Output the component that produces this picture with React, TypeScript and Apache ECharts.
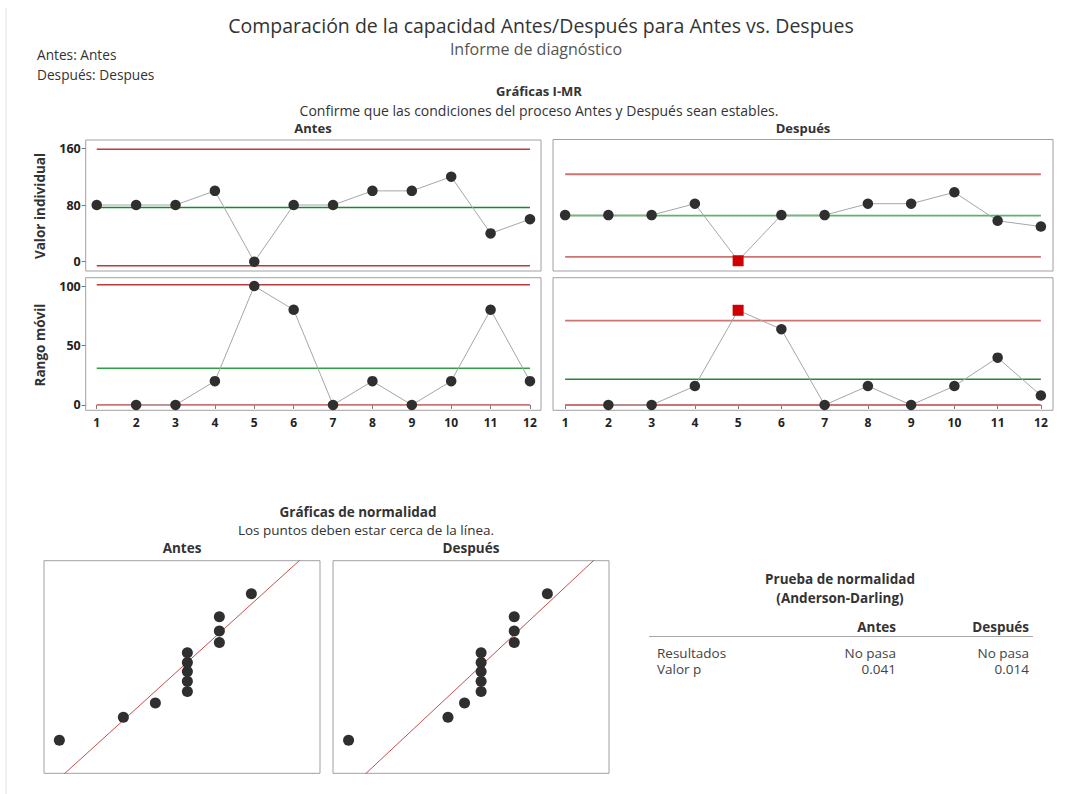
import React, { useEffect, useRef } from "react";
import * as echarts from "echarts";

// ---------- data ----------
const indices = [1, 2, 3, 4, 5, 6, 7, 8, 9, 10, 11, 12];
const antesValues = [80, 80, 80, 100, 0, 80, 80, 100, 100, 120, 40, 60];
const despuesValues = [80, 80, 80, 100, 0, 80, 80, 100, 100, 120, 70, 60];
// moving ranges start at observation 2
const antesMR = [0, 0, 20, 100, 80, 0, 20, 0, 20, 80, 20];
const despuesMR = [0, 0, 20, 100, 80, 0, 20, 0, 20, 50, 10];
// control limits [UCL, CL, LCL]
const antesILimits = [158.9, 76.67, -5.6];
const despuesILimits = [151.7, 79.17, 6.6];
const antesMRLimits = [101.0, 30.9, 0];
const despuesMRLimits = [89.1, 27.27, 0];
// y tick labels
const iTicks = [0, 80, 160];
const mrTicks = [0, 50, 100];
// normal scores (probability plot y positions)
const normalScores = [-1.59, -1.09, -0.78, -0.53, -0.31, -0.1, 0.1, 0.31, 0.53, 0.78, 1.09, 1.59];
// fitted normal line: [mean, sd]
const antesFit = [76.67, 31.7];
const despuesFit = [79.17, 29.7];
// normality test table
const tableCols = ["Antes", "Después"];
const tableRows = ["Resultados", "Valor p"];
const tableResultados = ["No pasa", "No pasa"];
const tablePValues = ["0.041", "0.014"];

const FONT = "'Open Sans', 'Noto Sans', sans-serif";
const DARK = "#333333";

function txt(text: string, x: number, y: number, size: number, opts: any = {}) {
  return {
    type: "text",
    x,
    y,
    rotation: opts.rotation || 0,
    silent: true,
    style: {
      text,
      fill: opts.color || DARK,
      fontSize: size,
      fontFamily: FONT,
      fontWeight: opts.bold ? "bold" : "normal",
      textAlign: opts.align || "center",
      textVerticalAlign: "middle",
    },
  };
}

function limitLine(ax: number, value: number, color: string, width: number) {
  return {
    type: "line",
    xAxisIndex: ax,
    yAxisIndex: ax,
    data: [
      [indices[0], value],
      [indices[indices.length - 1], value],
    ],
    symbol: "none",
    silent: true,
    lineStyle: { color, width },
    z: 1,
  };
}

function dataSeries(ax: number, xs: number[], ys: number[], limits: number[]) {
  return {
    type: "line",
    xAxisIndex: ax,
    yAxisIndex: ax,
    showSymbol: true,
    showAllSymbol: true,
    symbol: "circle",
    symbolSize: 10.5,
    itemStyle: { color: "#2f2f2f" },
    lineStyle: { color: "#a6a6a6", width: 1 },
    z: 3,
    data: ys.map((v, i) => {
      const out = v > limits[0] || v < limits[2];
      return out
        ? { value: [xs[i], v], symbol: "rect", symbolSize: 11, itemStyle: { color: "#d00000" } }
        : { value: [xs[i], v] };
    }),
  };
}

export default function App() {
  const ref = useRef<HTMLDivElement>(null);

  useEffect(() => {
    if (!ref.current) return;
    const chart = echarts.init(ref.current, null, { renderer: "svg" });

    const grids = [
      { left: 85.7, top: 140, width: 455.3, height: 131 },
      { left: 553, top: 139.5, width: 500, height: 131.5 },
      { left: 85.7, top: 277.7, width: 455.3, height: 132.6 },
      { left: 553, top: 277.7, width: 500, height: 132.6 },
      { left: 44, top: 560.7, width: 276, height: 212.6 },
      { left: 333, top: 560.7, width: 276, height: 212.6 },
    ].map((g) => ({ ...g, show: true, borderColor: "#a0a0a0", borderWidth: 1, backgroundColor: "#ffffff", containLabel: false }));

    const xMin = 0.72;
    const xMax = 12.28;
    const hiddenX = (gi: number, min: number, max: number) => ({
      type: "value",
      gridIndex: gi,
      min,
      max,
      show: false,
    });
    const labelX = (gi: number) => ({
      type: "value",
      gridIndex: gi,
      min: xMin,
      max: xMax,
      axisLine: { show: false },
      splitLine: { show: false },
      axisTick: { show: true, customValues: indices, length: 4, lineStyle: { color: "#777" } },
      axisLabel: {
        customValues: indices,
        color: "#222",
        fontSize: 12,
        fontWeight: "bold",
        fontFamily: FONT,
        margin: 6,
      },
    });
    const hiddenY = (gi: number, min: number, max: number) => ({
      type: "value",
      gridIndex: gi,
      min,
      max,
      show: false,
    });
    const labelY = (gi: number, min: number, max: number, ticks: number[]) => ({
      type: "value",
      gridIndex: gi,
      min,
      max,
      axisLine: { show: false },
      splitLine: { show: false },
      axisTick: { show: true, customValues: ticks, length: 4, lineStyle: { color: "#777" } },
      axisLabel: {
        customValues: ticks,
        color: "#222",
        fontSize: 12.5,
        fontWeight: "bold",
        fontFamily: FONT,
        margin: 5,
      },
    });

    const antesSorted = [...antesValues].sort((a, b) => a - b);
    const despuesSorted = [...despuesValues].sort((a, b) => a - b);
    const fitLine = (fit: number[]) => [
      [fit[0] - 2.6 * fit[1], -2.6],
      [fit[0] + 2.6 * fit[1], 2.6],
    ];

    const redA = "#bd3a3a";
    const redD = "#cc7474";
    const greenA = "#138a2b";
    const greenD = "#5db36c";

    const option: any = {
      animation: false,
      backgroundColor: "#ffffff",
      grid: grids,
      xAxis: [
        hiddenX(0, xMin, xMax),
        hiddenX(1, xMin, xMax),
        labelX(2),
        labelX(3),
        hiddenX(4, -9.6, 162.9),
        hiddenX(5, -9.4, 157.2),
      ],
      yAxis: [
        labelY(0, -13.1, 171.8, iTicks),
        hiddenY(1, -18, 212.6),
        labelY(2, -4.5, 107, mrTicks),
        hiddenY(3, -5.6, 134.4),
        hiddenY(4, -2.31, 2.31),
        hiddenY(5, -2.31, 2.31),
      ],
      series: [
        limitLine(0, antesILimits[0], redA, 1.5),
        limitLine(0, antesILimits[1], greenA, 1.5),
        limitLine(0, antesILimits[2], redA, 1.5),
        dataSeries(0, indices, antesValues, antesILimits),
        limitLine(1, despuesILimits[0], redD, 1.8),
        limitLine(1, despuesILimits[1], greenD, 1.8),
        limitLine(1, despuesILimits[2], redD, 1.8),
        dataSeries(1, indices, despuesValues, despuesILimits),
        limitLine(2, antesMRLimits[0], redA, 1.5),
        limitLine(2, antesMRLimits[1], "#2ea043", 1.5),
        limitLine(2, antesMRLimits[2], redD, 1.8),
        dataSeries(2, indices.slice(1), antesMR, antesMRLimits),
        limitLine(3, despuesMRLimits[0], redD, 1.8),
        limitLine(3, despuesMRLimits[1], "#23873a", 1.5),
        limitLine(3, despuesMRLimits[2], redD, 1.8),
        dataSeries(3, indices.slice(1), despuesMR, despuesMRLimits),
        {
          type: "line",
          xAxisIndex: 4,
          yAxisIndex: 4,
          data: fitLine(antesFit),
          symbol: "none",
          clip: true,
          lineStyle: { color: "#c0504d", width: 1 },
          z: 1,
        },
        {
          type: "scatter",
          xAxisIndex: 4,
          yAxisIndex: 4,
          symbolSize: 11,
          itemStyle: { color: "#2f2f2f", opacity: 1 },
          data: antesSorted.map((v, i) => [v, normalScores[i]]),
          z: 3,
        },
        {
          type: "line",
          xAxisIndex: 5,
          yAxisIndex: 5,
          data: fitLine(despuesFit),
          symbol: "none",
          clip: true,
          lineStyle: { color: "#c0504d", width: 1 },
          z: 1,
        },
        {
          type: "scatter",
          xAxisIndex: 5,
          yAxisIndex: 5,
          symbolSize: 11,
          itemStyle: { color: "#2f2f2f", opacity: 1 },
          data: despuesSorted.map((v, i) => [v, normalScores[i]]),
          z: 3,
        },
      ],
      graphic: [
        { type: "line", silent: true, shape: { x1: 6, y1: 8, x2: 6, y2: 794 }, style: { stroke: "#e2e2e2", lineWidth: 1 } },
        txt("Comparación de la capacidad Antes/Después para Antes vs. Despues", 541, 25.5, 19.5),
        txt("Informe de diagnóstico", 536, 48.5, 16, { color: "#555" }),
        txt("Antes: Antes", 37, 54, 13.7, { align: "left" }),
        txt("Después: Despues", 37, 74, 13.7, { align: "left" }),
        txt("Gráficas I-MR", 539, 91, 13, { bold: true }),
        txt("Confirme que las condiciones del proceso Antes y Después sean estables.", 539, 110, 14),
        txt("Antes", 313, 128, 13, { bold: true }),
        txt("Después", 803, 128, 13, { bold: true }),
        txt("Valor individual", 40, 206, 13.5, { bold: true, rotation: Math.PI / 2 }),
        txt("Rango móvil", 40, 345, 13.5, { bold: true, rotation: Math.PI / 2 }),
        txt("Gráficas de normalidad", 358, 511.5, 13.5, { bold: true }),
        txt("Los puntos deben estar cerca de la línea.", 366, 530, 13.5),
        txt("Antes", 182, 548, 13.5, { bold: true }),
        txt("Después", 471, 548, 13.5, { bold: true }),
        txt("Prueba de normalidad", 840, 579, 13.5, { bold: true }),
        txt("(Anderson-Darling)", 840, 598, 13.5, { bold: true }),
        txt(tableCols[0], 896, 627, 13.5, { bold: true, align: "right" }),
        txt(tableCols[1], 1029, 627, 13.5, { bold: true, align: "right" }),
        { type: "line", silent: true, shape: { x1: 649, y1: 636.5, x2: 1033, y2: 636.5 }, style: { stroke: "#a8a8a8", lineWidth: 1 } },
        txt(tableRows[0], 657, 653, 13.5, { align: "left", color: "#444" }),
        txt(tableResultados[0], 896, 653, 13.5, { align: "right", color: "#444" }),
        txt(tableResultados[1], 1029, 653, 13.5, { align: "right", color: "#444" }),
        txt(tableRows[1], 657, 669, 13.5, { align: "left", color: "#444" }),
        txt(tablePValues[0], 896, 669, 13.5, { align: "right", color: "#444" }),
        txt(tablePValues[1], 1029, 669, 13.5, { align: "right", color: "#444" }),
      ],
    };

    chart.setOption(option);
    return () => chart.dispose();
  }, []);

  return (
    <div
      ref={ref}
      style={{ position: "fixed", left: 0, top: 0, width: 1065, height: 794, background: "#fff" }}
    />
  );
}
